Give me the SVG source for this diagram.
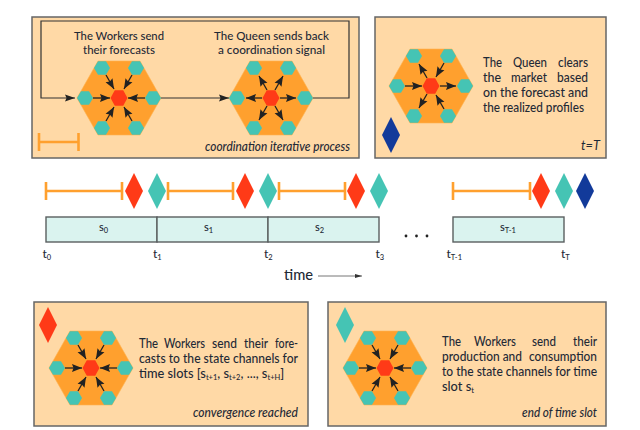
<svg xmlns="http://www.w3.org/2000/svg" width="640" height="430" viewBox="0 0 640 430">
<style>
text{font-family:Lato,"Open Sans","Liberation Sans",sans-serif;fill:#1f2a36;font-size:12.8px;font-weight:500}
.c{text-anchor:middle;font-size:11.6px}
.e{text-anchor:end;font-style:italic}
.s{font-size:11px}
.t{font-size:12px}
.sub{font-size:7.5px}
.panel{fill:#ffd9a6;stroke:#666;stroke-width:1.5}
.hex{fill:#ffa02e;stroke:#ffb450;stroke-width:.6}
.w{fill:#45c4b4}
.q{fill:#ff3a17}
.b{fill:#123a9a}
.arr{stroke:#222;stroke-width:1.3;fill:none;marker-end:url(#head)}
.line{stroke:#333;stroke-width:1.2;fill:none}
.bar{stroke:#ffa02e;stroke-width:2.6;fill:none}
.slot{fill:#daf3ef;stroke:#5a5f60;stroke-width:1.4}
</style>
<defs>
<marker id="head" markerUnits="userSpaceOnUse" markerWidth="11" markerHeight="9" refX="10" refY="4.500" orient="auto"><path d="M0 .5L10 4.500L0 8.500L1.500 4.500z" fill="#222"/></marker>
<marker id="bighead" markerUnits="userSpaceOnUse" markerWidth="11" markerHeight="9" refX="10" refY="4.500" orient="auto"><path d="M0 1L10 4.500L0 8L1.500 4.500z" fill="#222"/></marker>
<marker id="smallhead" markerUnits="userSpaceOnUse" markerWidth="7" markerHeight="5" refX="7" refY="2.5" orient="auto"><path d="M0 .5L7 2.5L0 4.5z" fill="#333"/></marker>
<polygon id="d" points="0,-18 9,0 0,18 -9,0"/>
<polygon id="cell" points="-8,0 -4,-6.800 4,-6.800 8,0 4,6.800 -4,6.800"/>
<g id="hive">
<polygon class="hex" points="-42,0 -21,-37 21,-37 42,0 21,37 -21,37"/>
<use href="#cell" class="w" x="-34" y="0"/>
<use href="#cell" class="w" x="34" y="0"/>
<use href="#cell" class="w" x="-17" y="-30"/>
<use href="#cell" class="w" x="17" y="-30"/>
<use href="#cell" class="w" x="-17" y="30"/>
<use href="#cell" class="w" x="17" y="30"/>
<polygon class="q" points="-8.5,0 -4.2,-7.7 4.2,-7.7 8.5,0 4.2,7.7 -4.2,7.7"/>
</g>
<path id="iL" class="arr" d="M-26 0H-9"/>
<path id="iR" class="arr" d="M26 0H9"/>
<path id="iUL" class="arr" d="M-13 -23L-5 -9"/>
<path id="iUR" class="arr" d="M13 -23L5 -9"/>
<path id="iDL" class="arr" d="M-13 23L-5 9"/>
<path id="iDR" class="arr" d="M13 23L5 9"/>
<path id="oL" class="arr" d="M-9 0H-25"/>
<path id="oR" class="arr" d="M9 0H25"/>
<path id="oUL" class="arr" d="M-4 -8L-12 -22"/>
<path id="oUR" class="arr" d="M4 -8L12 -22"/>
<path id="oDL" class="arr" d="M-4 8L-12 22"/>
<path id="oDR" class="arr" d="M4 8L12 22"/>
<g id="gather"><use href="#hive"/><use href="#iL"/><use href="#iR"/><use href="#iUL"/><use href="#iUR"/><use href="#iDL"/><use href="#iDR"/></g>
<g id="spread"><use href="#hive"/><use href="#oL"/><use href="#oR"/><use href="#oUL"/><use href="#oUR"/><use href="#oDL"/><use href="#oDR"/></g>
</defs>

<g id="panel-iteration">
<rect class="panel" x="32" y="17" width="327" height="141"/>
<text class="c" x="119" y="40" textLength="90" lengthAdjust="spacingAndGlyphs">The Workers send</text>
<text class="c" x="119" y="54" textLength="72" lengthAdjust="spacingAndGlyphs">their forecasts</text>
<text class="c" x="271.5" y="40" textLength="115" lengthAdjust="spacingAndGlyphs">The Queen sends back</text>
<text class="c" x="271.5" y="54" textLength="107" lengthAdjust="spacingAndGlyphs">a coordination signal</text>
<text class="e" x="350" y="151" textLength="145" lengthAdjust="spacingAndGlyphs">coordination iterative process</text>
<path class="bar" d="M39 133V151M39 142H78.5M78.5 133V151"/>
</g>
<g id="workers-forecast" transform="translate(119,98)"><use href="#gather"/></g>
<g id="queen-signal" transform="translate(271,98)"><use href="#spread"/></g>

<g id="panel-clearing">
<rect class="panel" x="375" y="17" width="231" height="141"/>
<use href="#d" class="b" x="391" y="135"/>
<text y="67"><tspan x="483" textLength="19" lengthAdjust="spacingAndGlyphs">The</tspan><tspan x="513" textLength="34" lengthAdjust="spacingAndGlyphs">Queen</tspan><tspan x="558" textLength="30" lengthAdjust="spacingAndGlyphs">clears</tspan></text>
<text y="82"><tspan x="483" textLength="18" lengthAdjust="spacingAndGlyphs">the</tspan><tspan x="511" textLength="36" lengthAdjust="spacingAndGlyphs">market</tspan><tspan x="557" textLength="31" lengthAdjust="spacingAndGlyphs">based</tspan></text>
<text x="483" y="97" textLength="105" lengthAdjust="spacingAndGlyphs">on the forecast and</text>
<text x="483" y="112" textLength="101" lengthAdjust="spacingAndGlyphs">the realized profiles</text>
<text class="e" x="600" y="150" style="font-weight:400">t=T</text>
</g>
<g id="queen-clears" transform="translate(431,86)">
<use href="#hive"/><use href="#iL"/><use href="#oR"/><use href="#oUL"/><use href="#iUR"/><use href="#oDL"/><use href="#iDR"/>
</g>

<g id="timeline">
<path class="bar" d="M46 182V200M46 191H122M122 182V200M168 182V200M168 191H233M233 182V200M279 182V200M279 191H345M345 182V200M453 182V200M453 191H530M530 182V200"/>
<use href="#d" class="q" x="134" y="191"/><use href="#d" class="w" x="157" y="191"/>
<use href="#d" class="q" x="245" y="191"/><use href="#d" class="w" x="268" y="191"/>
<use href="#d" class="q" x="356" y="191"/><use href="#d" class="w" x="379" y="191"/>
<use href="#d" class="q" x="541" y="191"/><use href="#d" class="w" x="564" y="191"/><use href="#d" class="b" x="585" y="191"/>
<rect class="slot" x="46" y="217" width="111" height="25"/>
<rect class="slot" x="157" y="217" width="111" height="25"/>
<rect class="slot" x="268" y="217" width="111" height="25"/>
<rect class="slot" x="453" y="217" width="111" height="25"/>
<text class="s" x="99" y="231">s<tspan class="sub" dy="2">0</tspan></text>
<text class="s" x="204" y="231">s<tspan class="sub" dy="2">1</tspan></text>
<text class="s" x="315" y="231">s<tspan class="sub" dy="2">2</tspan></text>
<text class="s" x="500" y="231">s<tspan class="sub" dy="2">T-1</tspan></text>
<circle cx="406" cy="236" r="1.4" fill="#222"/><circle cx="416.500" cy="236" r="1.4" fill="#222"/><circle cx="427" cy="236" r="1.4" fill="#222"/>
<text class="t" x="42.500" y="258">t<tspan class="sub" dy="2">0</tspan></text>
<text class="t" x="153" y="258">t<tspan class="sub" dy="2">1</tspan></text>
<text class="t" x="264" y="258">t<tspan class="sub" dy="2">2</tspan></text>
<text class="t" x="375.500" y="258">t<tspan class="sub" dy="2">3</tspan></text>
<text class="t" x="446.500" y="258">t<tspan class="sub" dy="2">T-1</tspan></text>
<text class="t" x="561" y="258">t<tspan class="sub" dy="2">T</tspan></text>
<text x="284" y="280" style="font-size:15px" textLength="29" lengthAdjust="spacingAndGlyphs">time</text>
</g>

<g id="panel-convergence">
<rect class="panel" x="34" y="302" width="274" height="124"/>
<use href="#d" class="q" x="48" y="325"/>
<text y="348"><tspan x="139" textLength="19" lengthAdjust="spacingAndGlyphs">The</tspan><tspan x="164" textLength="41" lengthAdjust="spacingAndGlyphs">Workers</tspan><tspan x="212" textLength="25" lengthAdjust="spacingAndGlyphs">send</tspan><tspan x="244" textLength="24" lengthAdjust="spacingAndGlyphs">their</tspan><tspan x="275" textLength="23" lengthAdjust="spacingAndGlyphs">fore-</tspan></text>
<text x="139" y="363" textLength="159" lengthAdjust="spacingAndGlyphs">casts to the state channels for</text>
<text x="139" y="378">time slots [s<tspan class="sub" dy="2">t+1</tspan><tspan dy="-2">, s</tspan><tspan class="sub" dy="2">t+2</tspan><tspan dy="-2">, ..., s</tspan><tspan class="sub" dy="2">t+H</tspan><tspan dy="-2">]</tspan></text>
<text class="e" x="298" y="417" textLength="105" lengthAdjust="spacingAndGlyphs">convergence reached</text>
</g>
<g id="workers-channels" transform="translate(91,368)"><use href="#gather"/></g>

<g id="panel-slot-end">
<rect class="panel" x="328" y="302" width="278" height="124"/>
<use href="#d" class="w" x="345" y="325"/>
<text y="346"><tspan x="442" textLength="19" lengthAdjust="spacingAndGlyphs">The</tspan><tspan x="474" textLength="42" lengthAdjust="spacingAndGlyphs">Workers</tspan><tspan x="532" textLength="24" lengthAdjust="spacingAndGlyphs">send</tspan><tspan x="573" textLength="24" lengthAdjust="spacingAndGlyphs">their</tspan></text>
<text y="361"><tspan x="442" textLength="80" lengthAdjust="spacingAndGlyphs">production and</tspan><tspan x="529" textLength="68" lengthAdjust="spacingAndGlyphs">consumption</tspan></text>
<text x="442" y="376" textLength="155" lengthAdjust="spacingAndGlyphs">to the state channels for time</text>
<text x="442" y="391">slot s<tspan class="sub" dy="2">t</tspan></text>
<text class="e" x="597" y="417" textLength="75" lengthAdjust="spacingAndGlyphs">end of time slot</text>
</g>
<g id="workers-production" transform="translate(385,368)"><use href="#gather"/></g>

<g id="connectors">
<path class="line" style="marker-end:url(#bighead)" d="M313 98H349V21H41V98H75"/>
<path class="line" style="marker-end:url(#bighead)" d="M161 98H229"/>
<path style="stroke:#777;stroke-width:1;fill:none;marker-end:url(#smallhead)" d="M318 276H362"/>
</g>
</svg>
